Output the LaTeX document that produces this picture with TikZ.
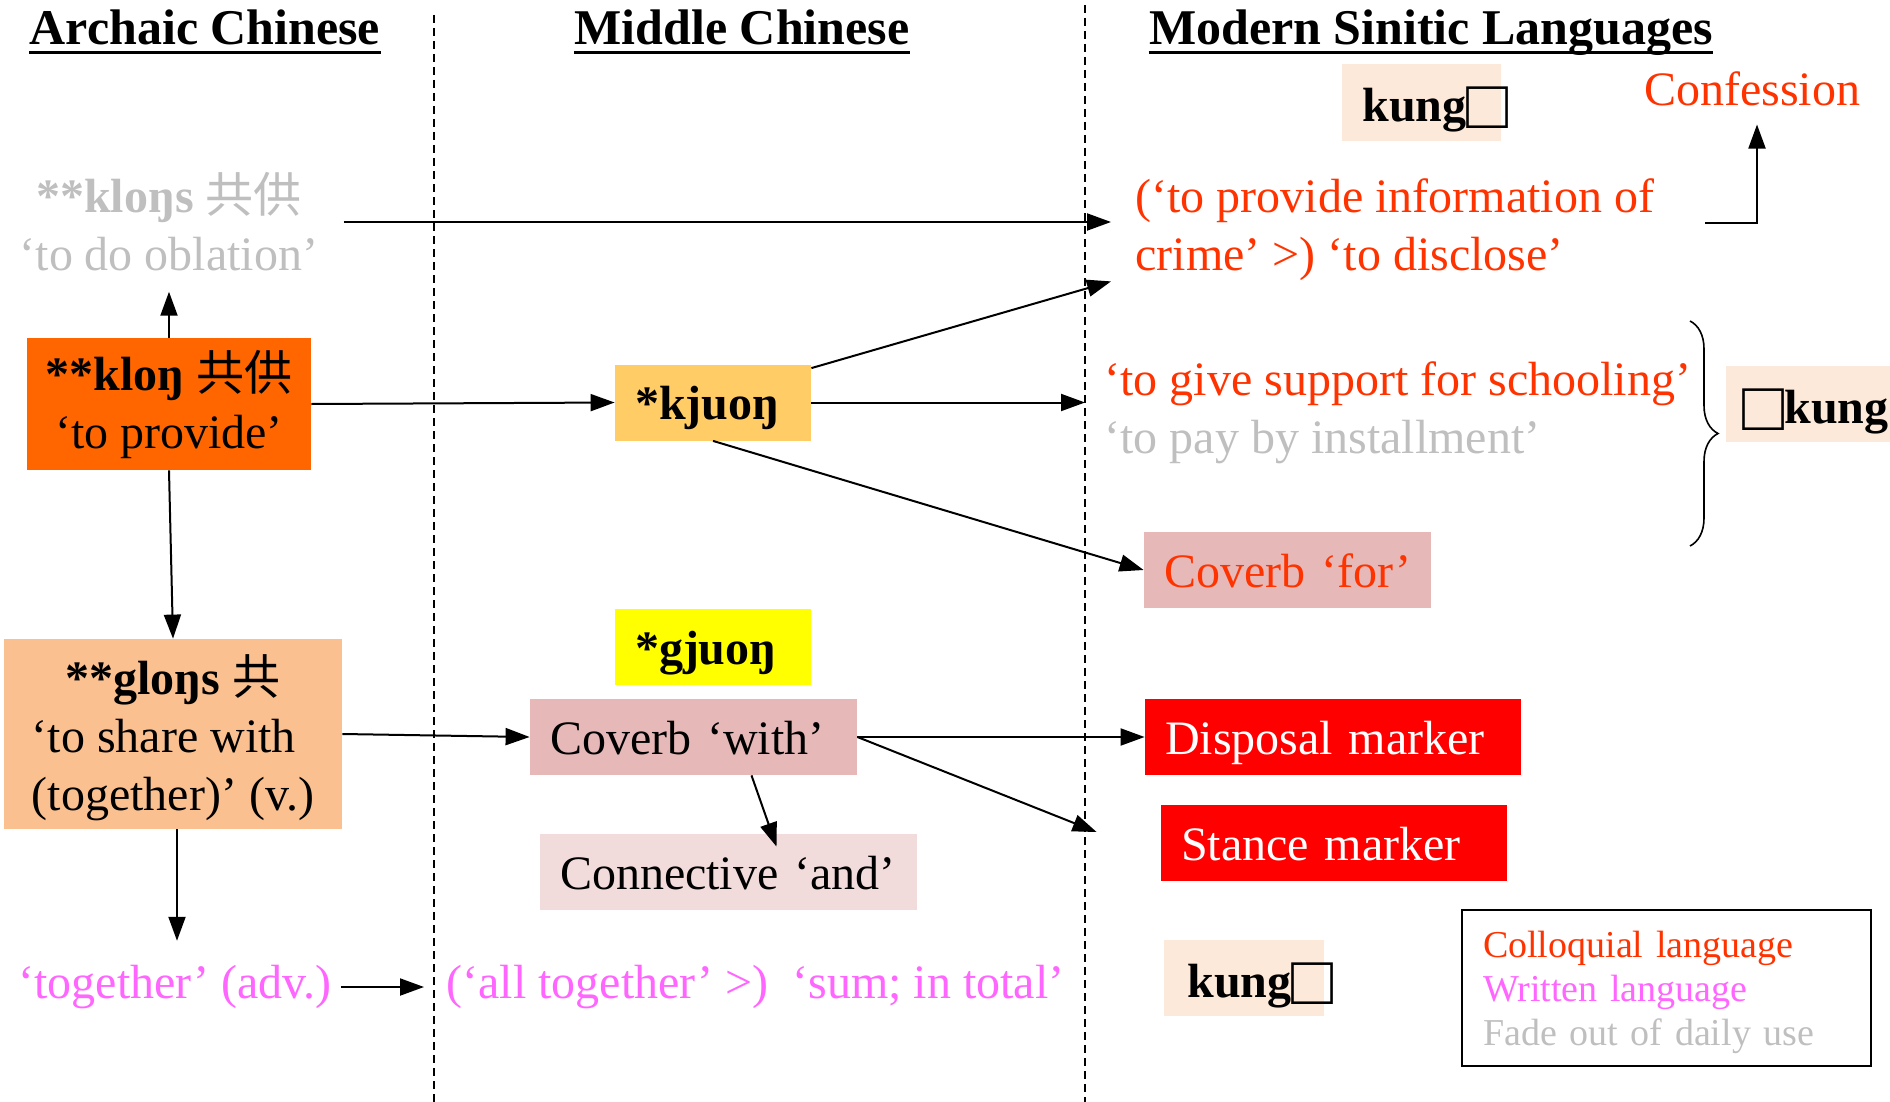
\documentclass[tikz,border=0pt]{standalone}
\usepackage{fontspec}
\setmainfont{Liberation Serif}
\newfontfamily\cjk{Noto Sans CJK SC}
\usetikzlibrary{arrows.meta,decorations.pathreplacing,calc}
\definecolor{rtext}{HTML}{FF3300}
\definecolor{wtext}{HTML}{FF66FF}
\definecolor{fade}{HTML}{BFBFBF}
\definecolor{orangeA}{HTML}{FF6600}
\definecolor{kjfill}{HTML}{FFCC66}
\definecolor{yel}{HTML}{FFFF00}
\definecolor{pinkbox}{HTML}{E6B8B7}
\definecolor{lightpink}{HTML}{F2DCDB}
\definecolor{peach}{HTML}{FDE9D9}
\definecolor{glfill}{HTML}{FAC090}
\definecolor{redbox}{HTML}{FF0000}
\newcommand\tofubox{\raisebox{-3.5pt}{\scalebox{1.45}{□}}}
\begin{document}
\begin{tikzpicture}[x=0.5pt,y=-0.5pt,
  body/.style={font=\fontsize{24}{29}\selectfont},
  bodyb/.style={font=\fontsize{24}{29}\selectfont\bfseries},
  head/.style={font=\fontsize{25}{30}\selectfont\bfseries, inner sep=0pt, anchor=base},
  plain/.style={body, inner sep=0pt},
  box/.style={body, inner sep=0pt, minimum height=38pt, align=center},
  lbox/.style={body, inner ysep=0pt, inner xsep=10pt, minimum height=38pt, align=left,
    text height=17pt, text depth=0pt},
  bgbox/.style={fill=peach, inner sep=0pt, minimum height=38pt},
  arr/.style={-{Triangle[length=12pt,width=8.5pt]}, line width=1pt},
  sep/.style={dash pattern=on 4pt off 2.5pt, line width=0.6pt},
  uline/.style={line width=1.5pt}]
\useasboundingbox (0,0) rectangle (1890,1102);

% headings
\node[head] (hA) at (205,45) {Archaic Chinese};
\node[head] (hM) at (742,45) {Middle Chinese};
\node[head] (hS) at (1431,45) {Modern Sinitic Languages};
\foreach \n in {hA,hM,hS}
  \draw[uline] ([yshift=-4pt]\n.base west) -- ([yshift=-4pt]\n.base east);

% separators
\draw[sep] (434,15) -- (434,1102);
\draw[sep] (1085,5) -- (1085,1102);

% archaic column
\node[plain, text=fade, align=center] (kloNgs) at (169,222)
  {\textbf{**kloŋs} {\cjk 共供}\\‘to do oblation’};
\node[box, fill=orangeA, minimum width=142pt, minimum height=66pt] (kloNg) at (169,404)
  {\textbf{**kloŋ} {\cjk 共供}\\‘to provide’};
\node[box, fill=glfill, minimum width=169pt, minimum height=95pt] (gloNgs) at (173,734)
  {\begin{tabular}{@{}l@{}}\noalign{\vspace{7pt}}\multicolumn{1}{@{}c@{}}{\textbf{**gloŋs} {\cjk 共}}\\‘to share with\\(together)’ (v.)\end{tabular}};
\node[plain, text=wtext] (together) at (175,987) {‘together’ (adv.)};

% middle column
\node[lbox, bodyb, fill=kjfill, minimum width=98pt, text width=78pt] (kjuong) at (713,402.5) {*kjuoŋ};
\node[lbox, bodyb, fill=yel, minimum width=98pt, text width=78pt] (gjuong) at (713,647) {*gjuoŋ};
\node[lbox, fill=pinkbox, minimum width=163.5pt, text width=143.5pt] (coverWith) at (693.5,737) {Coverb ‘with’};
\node[lbox, fill=lightpink, minimum width=188.5pt, text width=168.5pt] (conn) at (728.5,872) {Connective ‘and’};
\node[plain, text=wtext, anchor=west] (sum) at (446,987) {(‘all together’ >)\ \ ‘sum; in total’};

% modern column
\node[bgbox, minimum width=79.5pt, minimum height=38.5pt] (kungTbg) at (1421.5,102.5) {};
\node[plain, bodyb, anchor=west] (kungT) at (1362,109) {kung\tofubox};
\node[plain, text=rtext] (conf) at (1752,89) {Confession};
\node[plain, text=rtext, anchor=west, align=left] (disclose) at (1135,230)
  {(‘to provide information of\\crime’ >) ‘to disclose’};
\node[plain, anchor=west, align=left] (support) at (1104,412.5)
  {\textcolor{rtext}{‘to give support for schooling’}\\\textcolor{fade}{‘to pay by installment’}};
\draw[decorate, decoration={brace, amplitude=14pt}, line width=0.8pt] (1690,321) -- (1690,546);
\node[bgbox, minimum width=92pt] (kungRbg) at (1818,404) {};
\node[plain, bodyb, anchor=west] (kungR) at (1742,411) {\tofubox kung};
\node[lbox, fill=pinkbox, text=rtext, minimum width=143.5pt, text width=123.5pt] (coverFor) at (1287.5,570) {Coverb ‘for’};
\node[lbox, fill=redbox, text=white, minimum width=188pt, text width=168pt] (disp) at (1333,737) {Disposal marker};
\node[lbox, fill=redbox, text=white, minimum width=173pt, text width=153pt] (stance) at (1334,843) {Stance marker};
\node[bgbox, minimum width=80pt] (kungBbg) at (1244,978) {};
\node[plain, bodyb, anchor=west] (kungB) at (1187,985) {kung\tofubox};

% legend
\node[draw, line width=1pt, inner xsep=10.5pt, inner ysep=0pt, minimum width=204.5pt,
  minimum height=78pt, text width=183.5pt, align=left, font=\fontsize{19}{22}\selectfont]
  (legend) at (1666.5,988)
  {\textcolor{rtext}{\rule{0pt}{18pt}Colloquial language}\\\textcolor{wtext}{Written language}\\\textcolor{fade}{Fade out of daily use}};

% connectors
\draw[arr, shorten >=12pt] ([xshift=12.5pt]kloNgs.east) -- (kloNgs.east -| disclose.west);
\draw[arr, shorten >=10pt] (kloNg.north) -- (kloNg.north |- kloNgs.south);
\draw[arr] (kloNg.east) -- (kjuong.west);
\draw[arr] (kloNg.south) -- (gloNgs.north);
\draw[arr] ([yshift=-2pt]kjuong.north east) -- ([xshift=-12pt]disclose.south west);
\draw[arr, shorten >=9.5pt] (kjuong.east) -- (kjuong.east -| support.west);
\draw[arr] (kjuong.south) -- (coverFor.west);
\draw[arr] (gloNgs.east) -- (coverWith.west);
\draw[arr, shorten >=12pt] ([xshift=2pt]gloNgs.south) -- ([xshift=2pt]gloNgs.south |- together.north);
\draw[arr, shorten <=4.5pt, shorten >=11pt] (together.east) -- (sum.west);
\draw[arr] (coverWith.east) -- (disp.west);
\draw[arr] (coverWith.east) -- ([shift={(-32pt,5.5pt)}]stance.west);
\draw[arr] ([xshift=29pt]coverWith.south) -- ([shift={(24pt,-6.5pt)}]conn.north);
\draw[arr, shorten <=25.5pt, shorten >=9pt] ([yshift=3.5pt]disclose.east) -| ([xshift=2.5pt]conf.south);
\end{tikzpicture}
\end{document}
